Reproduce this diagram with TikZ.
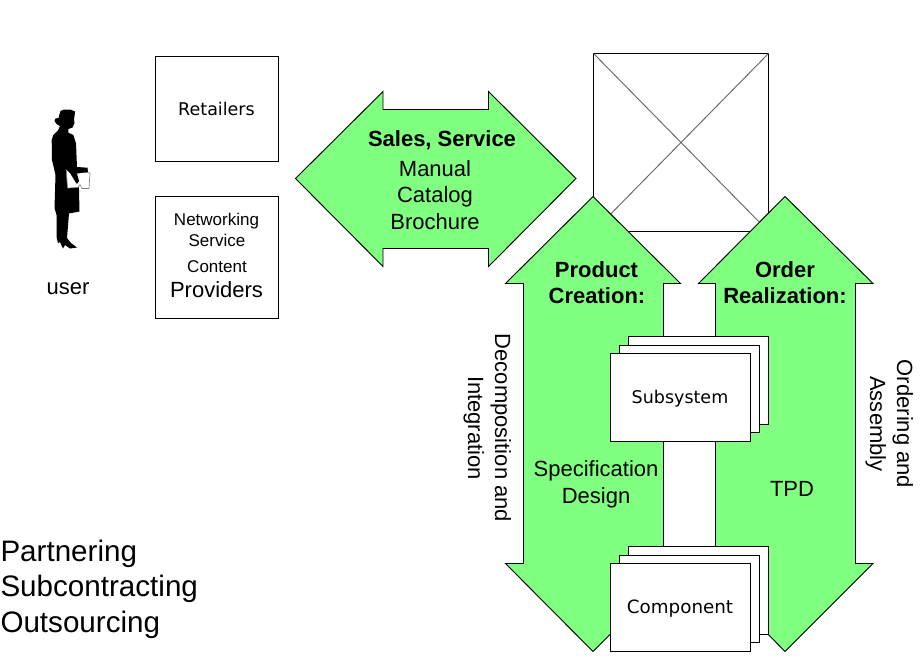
\documentclass[tikz,border=0pt]{standalone}
\usepackage{fontspec}
\setmainfont{Liberation Sans}
\newfontfamily\boxfont{DejaVu Sans}
\definecolor{arrowgreen}{HTML}{80FF80}
\newcommand{\px}[1]{\fontsize{\dimexpr#1pt*3/4\relax}{\dimexpr#1pt*9/10\relax}\selectfont}
\tikzset{
  x=0.75pt,y=-0.75pt,
  frame/.style={draw=black,fill=white,line width=0.75pt,inner sep=0pt,outer sep=0pt,anchor=north west},
  greenarrow/.style={draw=black,fill=arrowgreen,line width=0.7pt,line join=miter},
  cross/.style={draw=black!60,line width=0.7pt},
  txt/.style={anchor=base,inner sep=0pt,outer sep=0pt,font=\px{22}},
  boldtxt/.style={txt,font=\px{22}\bfseries},
  boxtxt/.style={anchor=base,inner sep=0pt,outer sep=0pt,font=\boxfont\px{17.5}},
  sidetxt/.style={anchor=base,inner sep=0pt,outer sep=0pt,font=\px{22},rotate=-90},
  bigtxt/.style={anchor=base west,inner sep=0pt,outer sep=0pt,font=\px{29.6}},
  stackw/.style={frame,minimum width=140*0.75pt,minimum height=87.5*0.75pt}
}
\begin{document}
\begin{tikzpicture}
\useasboundingbox (0,0) rectangle (920,660);
\fill[white] (0,0) rectangle (920,660);
% silhouette
\fill[black] (59.5,114) -- (60.5,111) -- (64,109.5) -- (70,109.5) -- (75,111.5) -- (74.7,115) -- (74,119) -- (74.5,123) -- (72.5,127.5) -- (68.5,129)
 -- (68.3,132.7) -- (73.3,135) -- (76,143.3) -- (77,167) -- (79,190) -- (79.5,211.5) -- (69,213.5)
 -- (67,238) -- (71,243) -- (77,247.5) -- (70,248.5) -- (65,245) -- (63,248.5) -- (60,242) -- (58,243) -- (56.5,237)
 -- (56.5,215) -- (54.5,208) -- (55.5,175) -- (52,160) -- (51.7,140) -- (53.3,135) -- (58,130.5) -- (60,126) -- (56.5,124) -- (54.5,121) -- (55.5,118.5) -- (58.5,118) -- cycle;
\filldraw[fill=white,draw=black!50,line width=0.5pt] (66.3,170) -- (90,173) -- (89,188.5) -- (82,188.5) -- (80,184.5) -- (78,187.5) -- (67.5,188) -- cycle;
\fill[black] (67,170) -- (77,167) -- (87.5,167.7) -- (88,172) -- (77,173.5) -- (79,181) -- (77,184) -- (75.5,182) -- (70,173) -- cycle;
% upper boxes
\node[frame,minimum width=123*0.75pt,minimum height=105*0.75pt] (retail) at (155.5,56.5) {};
\node[frame,minimum width=123*0.75pt,minimum height=122*0.75pt] (netbox) at (155.5,196.5) {};
\node[frame,minimum width=175*0.75pt,minimum height=178*0.75pt] (bigbox) at (593.5,53.5) {};
\draw[cross] (bigbox.north west) -- (bigbox.south east);
\draw[cross] (bigbox.north east) -- (bigbox.south west);
% green arrows
\draw[greenarrow] (295.5,178.5) -- (383,91.5) -- (383,109.5) -- (488.5,109.5) -- (488.5,91.5) -- (576,178.5) -- (488.5,266.5) -- (488.5,248.5) -- (383,248.5) -- (383,266.5) -- cycle;
\draw[greenarrow] (593,196.5) -- (680.5,283.5) -- (663.5,283.5) -- (663.5,563.5) -- (680.5,563.5) -- (593,651.5) -- (505.5,563.5) -- (523.5,563.5) -- (523.5,283.5) -- (505.5,283.5) -- cycle;
\draw[greenarrow] (785,196.5) -- (873,283.5) -- (855.5,283.5) -- (855.5,563.5) -- (873,563.5) -- (785,651.5) -- (698.5,563.5) -- (715.5,563.5) -- (715.5,283.5) -- (698.5,283.5) -- cycle;
% stacks
\node[stackw] (subc) at (628.5,336.5) {};
\node[stackw] (subb) at (619.5,345) {};
\node[stackw] (suba) at (610.5,353.5) {};
\node[stackw] (comc) at (628.5,546.5) {};
\node[stackw] (comb) at (619.5,555) {};
\node[stackw] (coma) at (610.5,563.5) {};
% text
\node[txt] (tuser) at (68,294) {user};
\node[boxtxt] (tretail) at (216.5,115) {Retailers};
\node[txt,font=\px{17}] (tnet) at (216.5,225) {Networking};
\node[txt,font=\px{17}] (tserv) at (217,246) {Service};
\node[txt,font=\px{17}] (tcont) at (217,272) {Content};
\node[txt] (tprov) at (216.5,297.5) {Providers};
\node[boldtxt] (tsales) at (442,146) {Sales, Service};
\node[txt] (tman) at (435,176) {Manual};
\node[txt] (tcat) at (435,202) {Catalog};
\node[txt] (tbro) at (435,229) {Brochure};
\node[boldtxt] (tprod) at (596.5,277) {Product};
\node[boldtxt] (tcrea) at (597,303) {Creation:};
\node[boldtxt] (tord) at (785,277) {Order};
\node[boldtxt] (treal) at (785,303) {Realization:};
\node[txt] (tspec) at (596,476) {Specification};
\node[txt] (tdes) at (596,503) {Design};
\node[txt] (ttpd) at (792,496) {TPD};
\node[boxtxt] (tsub) at (680,403) {Subsystem};
\node[boxtxt,font=\boxfont\px{18.3}] (tcomp) at (680,613) {Component};
\node[sidetxt] (tdec) at (495,428) {Decomposition and};
\node[sidetxt] (tint) at (468,428) {Integration};
\node[sidetxt] (tordr) at (897,424) {Ordering and};
\node[sidetxt] (tass) at (870,424) {Assembly};
\node[bigtxt] (tpart) at (0.5,561) {Partnering};
\node[bigtxt] (tsubc) at (0.5,596) {Subcontracting};
\node[bigtxt] (toutc) at (0.5,632) {Outsourcing};
\end{tikzpicture}
\end{document}
